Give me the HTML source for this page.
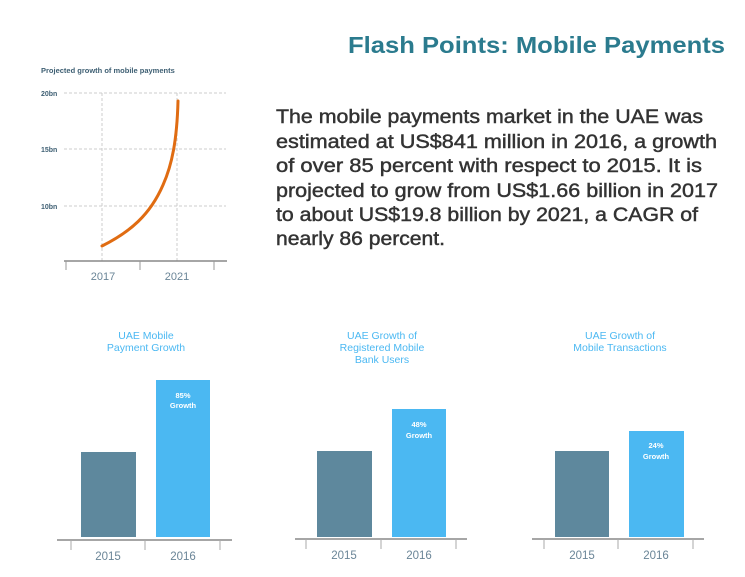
<!DOCTYPE html>
<html><head><meta charset="utf-8"><style>
html,body{margin:0;padding:0;background:#fff;}
svg{display:block;font-family:"Liberation Sans",sans-serif;}
</style></head><body>
<svg width="745" height="577" viewBox="0 0 745 577" xmlns="http://www.w3.org/2000/svg">
<rect width="745" height="577" fill="#fff"/>
<text x="348" y="53" textLength="377" lengthAdjust="spacingAndGlyphs" font-size="23" font-weight="bold" fill="#2b7b8e">Flash Points: Mobile Payments</text>
<g font-size="19" fill="#333" stroke="#333" stroke-width="0.45" lengthAdjust="spacingAndGlyphs">
<text x="276" y="123" textLength="427" lengthAdjust="spacingAndGlyphs">The mobile payments market in the UAE was</text>
<text x="276" y="148" textLength="441" lengthAdjust="spacingAndGlyphs">estimated at US$841 million in 2016, a growth</text>
<text x="276" y="172" textLength="426" lengthAdjust="spacingAndGlyphs">of over 85 percent with respect to 2015.  It is</text>
<text x="276" y="197" textLength="442" lengthAdjust="spacingAndGlyphs">projected to grow from US$1.66 billion in 2017</text>
<text x="276" y="221" textLength="422" lengthAdjust="spacingAndGlyphs">to about US$19.8 billion by 2021, a CAGR of</text>
<text x="276" y="245" textLength="169" lengthAdjust="spacingAndGlyphs">nearly 86 percent.</text>
</g>
<!-- line chart -->
<text x="41" y="73" font-size="7.5" font-weight="bold" fill="#3e5f73">Projected growth of mobile payments</text>
<g font-size="7" fill="#3e5f73" font-weight="bold">
<text x="41" y="96">20bn</text><text x="41" y="152">15bn</text><text x="41" y="209">10bn</text>
</g>
<g stroke="#ccc" stroke-width="1" stroke-dasharray="3,2">
<line x1="64" y1="93" x2="226" y2="93"/><line x1="64" y1="149" x2="226" y2="149"/><line x1="64" y1="206" x2="226" y2="206"/>
<line x1="102" y1="93" x2="102" y2="261"/><line x1="177" y1="93" x2="177" y2="261"/>
</g>
<line x1="64" y1="261" x2="227" y2="261" stroke="#888" stroke-width="1.5"/>
<g stroke="#999" stroke-width="1"><line x1="66" y1="261" x2="66" y2="270"/><line x1="140" y1="261" x2="140" y2="270"/><line x1="214" y1="261" x2="214" y2="270"/></g>
<path d="M102,246 C130,232 150,215 163,185 C172,165 177,140 178,101" fill="none" stroke="#e06c12" stroke-width="3" stroke-linecap="round"/>
<g font-size="11" fill="#6a8597" text-anchor="middle"><text x="103" y="280">2017</text><text x="177" y="280">2021</text></g>
<!-- bar charts -->
<g font-size="10.5" fill="#4bb8f2" text-anchor="middle">
<text x="146" y="339">UAE Mobile</text><text x="146" y="351">Payment Growth</text>
<text x="382" y="339">UAE Growth of</text><text x="382" y="351">Registered Mobile</text><text x="382" y="363">Bank Users</text>
<text x="620" y="339">UAE Growth of</text><text x="620" y="351">Mobile Transactions</text>
</g>
<g fill="#5e889d"><rect x="81" y="452" width="55" height="85"/><rect x="317" y="451" width="55" height="86"/><rect x="555" y="451" width="54" height="86"/></g>
<g fill="#4bb8f2"><rect x="156" y="380" width="54" height="157"/><rect x="392" y="409" width="54" height="128"/><rect x="629" y="431" width="55" height="106"/></g>
<g font-size="7.5" font-weight="bold" fill="#fff" text-anchor="middle">
<text x="183" y="398">85%</text><text x="183" y="408">Growth</text>
<text x="419" y="427">48%</text><text x="419" y="438">Growth</text>
<text x="656" y="448">24%</text><text x="656" y="459">Growth</text>
</g>
<g stroke="#888" stroke-width="1.5"><line x1="57" y1="540" x2="232" y2="540"/><line x1="295" y1="539" x2="467" y2="539"/><line x1="532" y1="539" x2="704" y2="539"/></g>
<g stroke="#aaa" stroke-width="1">
<line x1="71" y1="540" x2="71" y2="550"/><line x1="145" y1="540" x2="145" y2="550"/><line x1="220" y1="540" x2="220" y2="550"/>
<line x1="306" y1="539" x2="306" y2="549"/><line x1="381" y1="539" x2="381" y2="549"/><line x1="456" y1="539" x2="456" y2="549"/>
<line x1="544" y1="539" x2="544" y2="549"/><line x1="618" y1="539" x2="618" y2="549"/><line x1="693" y1="539" x2="693" y2="549"/>
</g>
<g font-size="11.5" fill="#6a8597" text-anchor="middle">
<text x="108" y="560">2015</text><text x="183" y="560">2016</text>
<text x="344" y="559">2015</text><text x="419" y="559">2016</text>
<text x="582" y="559">2015</text><text x="656" y="559">2016</text>
</g>
</svg>
</body></html>
